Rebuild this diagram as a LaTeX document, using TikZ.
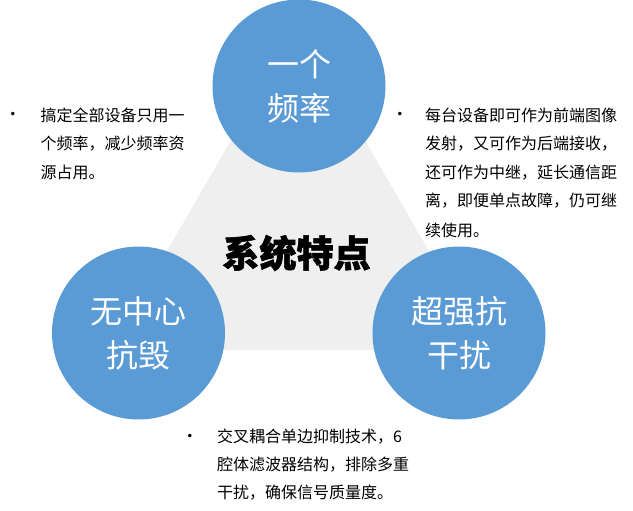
\documentclass[tikz,border=0pt]{standalone}
\usepackage{fontspec}
\setmainfont{Noto Sans CJK SC}
\newfontfamily\titlefont{Noto Sans CJK SC}[BoldFeatures={FakeBold=1.5}]
\newfontfamily\dejavu{DejaVu Sans}
\definecolor{cblue}{HTML}{5B9BD5}
\definecolor{tgray}{HTML}{EFEFEF}
\begin{document}
\begin{tikzpicture}[x=1pt,y=-1pt,
  feat/.style={circle, fill=cblue, minimum size=173pt, inner sep=0pt,
    text=white, align=center, font=\fontsize{32}{44}\selectfont},
  bul/.style={font=\fontsize{16}{28.5}\selectfont, anchor=west, inner sep=0pt},
  dot/.style={font=\dejavu\fontsize{12}{12}\selectfont, inner sep=0pt},
  titlestyle/.style={font=\titlefont\fontsize{37}{37}\selectfont\bfseries, inner sep=0pt},
]
\useasboundingbox (0,0) rectangle (633,511);
% background triangle
\fill[tgray] (298,24) -- (110,350) -- (486,350) -- cycle;
% circles
\node[feat] (top) at (299,86) {一个\\频率};
\node[feat] (left) at (138.5,333) {无中心\\抗毁};
\node[feat] (right) at (459,333) {超强抗\\干扰};
% title
\node[titlestyle] (title) at (296.5,253) {系统特点};
% left paragraph
\node[dot] (b1) at (13,115) {•};
\node[bul] (l1) at (40.5,115) {搞定全部设备只用一};
\node[bul] (l2) at (40.5,143.5) {个频率，减少频率资};
\node[bul] (l3) at (40.5,172) {源占用。};
% right paragraph
\node[dot] (b2) at (400,115) {•};
\node[bul] (r1) at (425,115) {每台设备即可作为前端图像};
\node[bul] (r2) at (425,143.7) {发射，又可作为后端接收，};
\node[bul] (r3) at (425,172.4) {还可作为中继，延长通信距};
\node[bul] (r4) at (425,201) {离，即便单点故障，仍可继};
\node[bul] (r5) at (425,230) {续使用。};
% bottom paragraph
\node[dot] (b3) at (190,437) {•};
\node[bul] (m1) at (217,437) {交叉耦合单边抑制技术，6};
\node[bul] (m2) at (217,465) {腔体滤波器结构，排除多重};
\node[bul] (m3) at (217,493) {干扰，确保信号质量度。};
\end{tikzpicture}
\end{document}
